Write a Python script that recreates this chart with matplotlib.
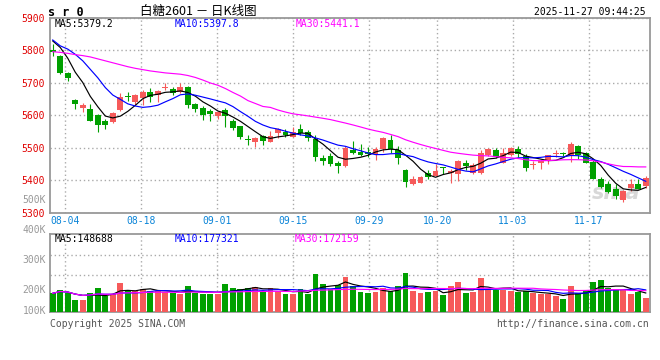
# sr0 白糖2601 日K线图 (sina style)
import numpy as np
import pandas as pd
import matplotlib
matplotlib.use('Agg')
import matplotlib.pyplot as plt

W, H = 660, 360

# 日线数据 07-31 .. 11-27
opens = [5800, 5782, 5731, 5647, 5621, 5619, 5601, 5583, 5578, 5616,
         5659, 5640, 5652, 5671, 5662, 5685, 5680, 5672, 5687, 5634,
         5623, 5613, 5598, 5615, 5583, 5567, 5527, 5519, 5535, 5519,
         5545, 5549, 5534, 5557, 5549, 5527, 5468, 5476, 5453, 5445,
         5494, 5488, 5488, 5481, 5496, 5523, 5493, 5433, 5390, 5393,
         5423, 5415, 5441, 5423, 5420, 5452, 5423, 5423, 5478, 5492,
         5454, 5478, 5495, 5474, 5447, 5454, 5459, 5480, 5485, 5474,
         5507, 5483, 5456, 5405, 5390, 5374, 5340, 5378, 5390, 5383]
highs = [5820, 5785, 5733, 5650, 5638, 5634, 5603, 5589, 5609, 5667,
         5670, 5665, 5678, 5683, 5678, 5700, 5687, 5698, 5690, 5639,
         5629, 5618, 5613, 5623, 5588, 5568, 5539, 5532, 5539, 5552,
         5560, 5557, 5565, 5572, 5554, 5539, 5478, 5483, 5459, 5506,
         5521, 5511, 5504, 5504, 5532, 5539, 5506, 5435, 5413, 5413,
         5432, 5449, 5442, 5434, 5464, 5464, 5454, 5492, 5500, 5500,
         5500, 5503, 5507, 5480, 5459, 5464, 5478, 5492, 5488, 5517,
         5510, 5487, 5464, 5411, 5398, 5388, 5370, 5403, 5403, 5413]
lows = [5783, 5726, 5705, 5619, 5609, 5581, 5550, 5558, 5576, 5613,
        5644, 5632, 5632, 5642, 5640, 5678, 5662, 5669, 5623, 5610,
        5585, 5583, 5590, 5564, 5554, 5527, 5509, 5503, 5509, 5517,
        5530, 5534, 5532, 5539, 5521, 5460, 5448, 5445, 5422, 5442,
        5481, 5476, 5473, 5463, 5486, 5484, 5450, 5381, 5386, 5391,
        5403, 5413, 5421, 5393, 5398, 5432, 5421, 5420, 5474, 5469,
        5452, 5474, 5472, 5429, 5436, 5436, 5449, 5472, 5474, 5456,
        5466, 5452, 5403, 5378, 5360, 5342, 5334, 5367, 5373, 5378]
closes = [5795, 5729, 5713, 5635, 5630, 5583, 5570, 5570, 5606, 5657,
          5657, 5662, 5672, 5657, 5674, 5687, 5669, 5687, 5632, 5618,
          5600, 5605, 5610, 5598, 5560, 5534, 5525, 5530, 5521, 5535,
          5557, 5540, 5550, 5545, 5529, 5472, 5460, 5450, 5445, 5498,
          5484, 5478, 5480, 5496, 5530, 5496, 5469, 5396, 5403, 5410,
          5410, 5429, 5438, 5429, 5459, 5444, 5446, 5485, 5495, 5471,
          5483, 5500, 5480, 5439, 5449, 5459, 5477, 5483, 5481, 5513,
          5478, 5454, 5405, 5380, 5364, 5353, 5369, 5388, 5374, 5408]
volumes = [148000, 178000, 150000, 90000, 90000, 153000, 189000, 125000, 145000, 230000,
           172000, 170000, 180000, 170000, 164000, 158000, 148000, 145000, 205000, 150000,
           142000, 142000, 142000, 221000, 191000, 180000, 189000, 197000, 166000, 189000,
           166000, 139000, 145000, 180000, 145000, 303000, 221000, 186000, 213000, 279000,
           205000, 156000, 148000, 156000, 191000, 164000, 205000, 312000, 164000, 148000,
           156000, 164000, 131000, 205000, 238000, 148000, 156000, 271000, 180000, 172000,
           172000, 164000, 156000, 164000, 150000, 139000, 139000, 125000, 98000, 205000,
           150000, 172000, 238000, 254000, 191000, 180000, 172000, 139000, 156000, 107000]

# 均线开头部分（需要更早的数据，直接从图上读）
ma5_head = [5828, 5808, 5775, 5732]
ma10_head = [5831, 5813, 5803, 5787, 5767, 5741, 5715, 5685, 5662]
ma30_head = [5795, 5793, 5790, 5786, 5783, 5779, 5773, 5767, 5761, 5755,
             5749, 5744, 5740, 5736, 5733, 5730, 5728, 5726, 5722, 5716,
             5708, 5699, 5692, 5682, 5670, 5659, 5645, 5636, 5627]

tick_labels = ['08-04', '08-18', '09-01', '09-15', '09-29', '10-20', '11-03', '11-17']
price_ticks = [5300, 5400, 5500, 5600, 5700, 5800, 5900]

RED = '#f65a5a'
GREEN = '#00a000'
BLUE = '#0000ff'
MAGENTA = '#ff00ff'
DATE_BLUE = '#0a84d8'
GRID = '#aaaaaa'
SPINE = '#999999'
MONO = 'DejaVu Sans Mono'
CJK = ['Noto Sans CJK SC', 'DejaVu Sans']

# 交易日（十一假期休市）
days = pd.bdate_range('2025-07-31', '2025-11-27')
days = days[(days < '2025-10-01') | (days > '2025-10-08')]
date_idx = [i for i, d in enumerate(days) if d.strftime('%m-%d') in tick_labels]
grid_x = [i + (i - 32) * 0.011 for i in date_idx]

o = np.array(opens); c = np.array(closes)
x = np.arange(len(c))
up = c >= o
colors = np.where(up, RED, GREEN)

cs = pd.Series(closes, dtype=float)
ma5 = cs.rolling(5).mean().values
ma10 = cs.rolling(10).mean().values
ma30 = cs.rolling(30).mean().values
ma5[:len(ma5_head)] = ma5_head
ma10[:len(ma10_head)] = ma10_head
ma30[:len(ma30_head)] = ma30_head

vs = pd.Series(volumes, dtype=float)
vma5 = vs.rolling(5, min_periods=1).mean().values
vma10 = vs.rolling(10, min_periods=1).mean().values
vma30 = vs.rolling(30, min_periods=1).mean().values


def frac(l, t, r, b):
    return [l / W, 1 - b / H, (r - l) / W, (b - t) / H]


fig = plt.figure(figsize=(W / 100, H / 100), dpi=100)
ax = fig.add_axes(frac(50.5, 17.5, 649.5, 213))
axv = fig.add_axes(frac(50.5, 234, 649.5, 311.5))

xlim = (-0.3, len(c) - 0.5)

# K线
ax.vlines(x, lows, highs, colors=colors, lw=0.8, zorder=3)
body_lo = np.minimum(o, c)
body_h = np.maximum(np.abs(c - o), 2)
ax.bar(x, body_h, bottom=body_lo, width=0.78, color=colors, linewidth=0, zorder=3)
ax.plot(x, ma5, color='black', lw=0.85, zorder=4)
ax.plot(x, ma10, color=BLUE, lw=0.85, zorder=4)
ax.plot(x, ma30, color=MAGENTA, lw=0.85, zorder=4)

ax.set_xlim(*xlim)
ax.set_ylim(5300, 5900)
ax.set_xticks(grid_x, [days[i].strftime('%m-%d') for i in date_idx])
ax.set_yticks(price_ticks)
ax.tick_params(axis='x', length=0, pad=2.5, colors=DATE_BLUE, labelsize=7)
ax.tick_params(axis='y', length=0, pad=4, colors='#e00000', labelsize=7)
for lab in ax.get_xticklabels() + ax.get_yticklabels():
    lab.set_fontfamily(MONO)
ax.grid(True, ls=(0, (1, 2)), color=GRID, lw=1, zorder=0)

# 新浪水印
ax.text(0.985, 0.05, 'sina', transform=ax.transAxes, ha='right', va='bottom',
        fontsize=15, fontstyle='italic', fontweight='bold', color='#d8d8d8', zorder=2)

# 成交量
axv.bar(x, volumes, width=0.78, color=colors, linewidth=0, zorder=3)
axv.plot(x, vma5, color='black', lw=0.85, zorder=4)
axv.plot(x, vma10, color=BLUE, lw=0.85, zorder=4)
axv.plot(x, vma30, color=MAGENTA, lw=0.85, zorder=4)
axv.set_xlim(*xlim)
axv.set_ylim(0, 631000)
axv.set_xticks(grid_x, [])
axv.set_yticks([295000, 459000], [])
axv.tick_params(length=0)
axv.grid(True, ls=(0, (1, 2)), color=GRID, lw=1, zorder=0)

for a in (ax, axv):
    for s in a.spines.values():
        s.set_color(SPINE)
        s.set_linewidth(1.3)


def ftext(px, py, s, **kw):
    fig.text(px / W, 1 - py / H, s, **kw)


# 标题行
ftext(48, 12, 's r 0', fontsize=8.5, fontweight='bold', family=MONO, va='center')
ftext(140, 11, '白糖2601 － 日K线图', fontsize=9, family=CJK, va='center')
ftext(646, 12, '2025-11-27 09:44:25', fontsize=7, family=MONO, va='center', ha='right')

ftext(55, 24, 'MA5:5379.2', fontsize=7, family=MONO, va='center', color='black')
ftext(175, 24, 'MA10:5397.8', fontsize=7, family=MONO, va='center', color=BLUE)
ftext(296, 24, 'MA30:5441.1', fontsize=7, family=MONO, va='center', color=MAGENTA)

ftext(55, 238.5, 'MA5:148688', fontsize=7, family=MONO, va='center', color='black')
ftext(175, 238.5, 'MA10:177321', fontsize=7, family=MONO, va='center', color=BLUE)
ftext(295, 238.5, 'MA30:172159', fontsize=7, family=MONO, va='center', color=MAGENTA)

# 成交量刻度
for yy, s in [(200, '500K'), (230, '400K'), (260, '300K'), (290, '200K'), (310.5, '100K')]:
    ftext(46, yy, s, fontsize=7, family=MONO, va='center', ha='right', color='#999999')

ftext(50, 324, 'Copyright 2025 SINA.COM', fontsize=7, family=MONO, va='center', color='#555555')
ftext(649, 324, 'http://finance.sina.com.cn', fontsize=7, family=MONO, va='center', ha='right', color='#555555')

plt.savefig('out.png', dpi=100)
